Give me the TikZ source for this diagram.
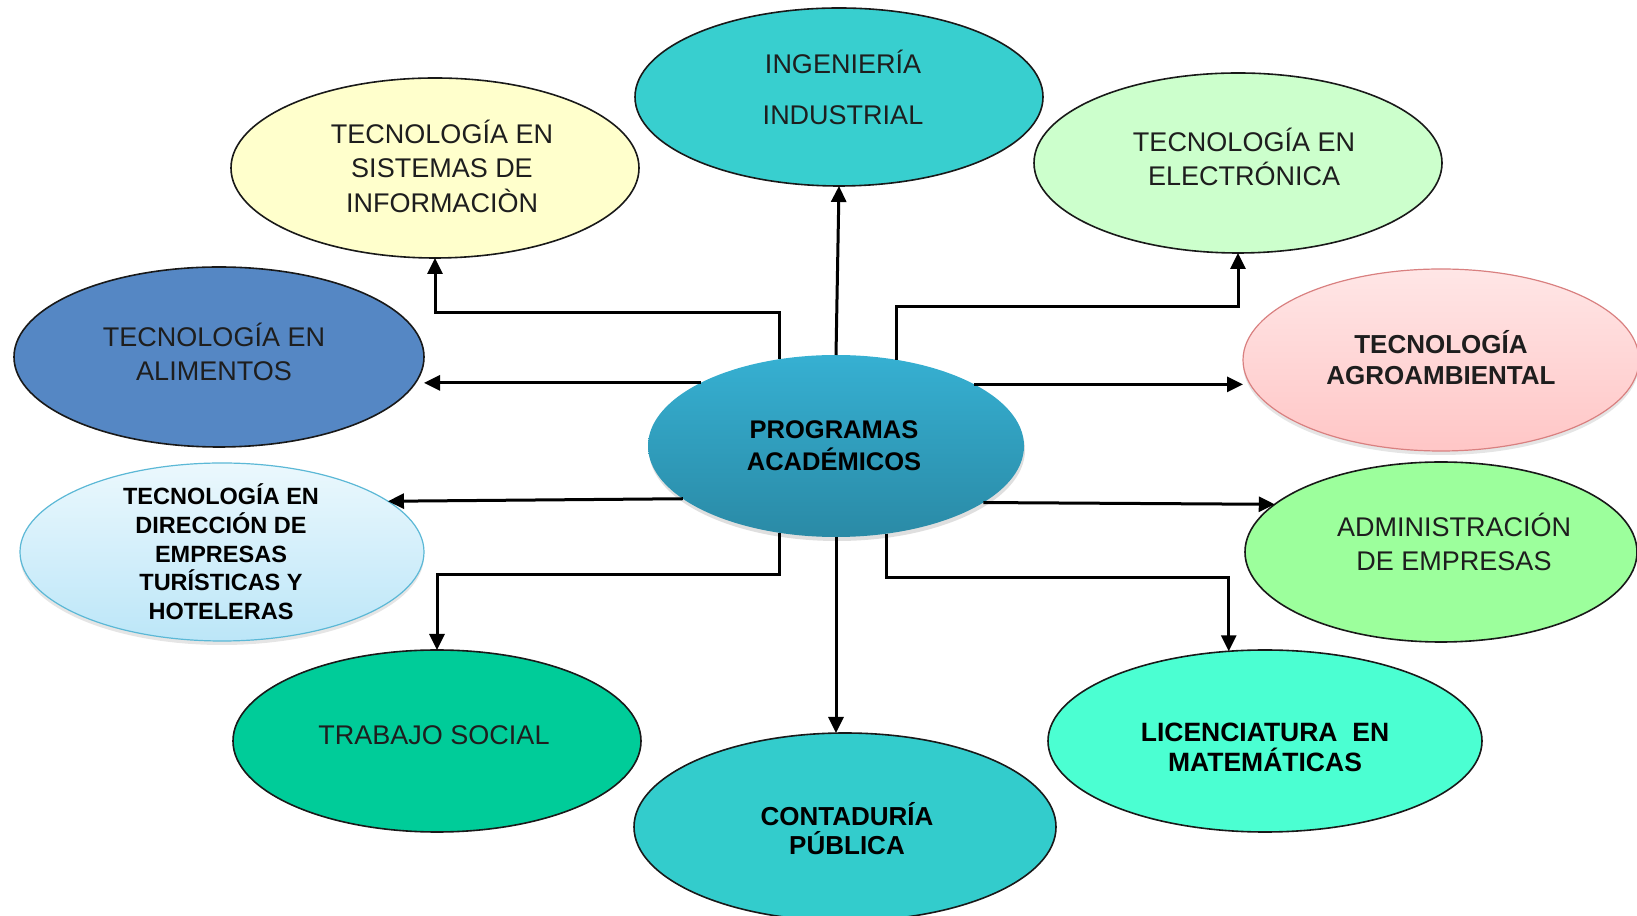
\documentclass[tikz,border=0pt]{standalone}
\usepackage{fontspec}
\setmainfont{Liberation Sans}
\usetikzlibrary{arrows.meta,shapes.geometric,shadows}
\definecolor{sisfill}{HTML}{FFFFCC}
\definecolor{indfill}{HTML}{38CFCF}
\definecolor{elefill}{HTML}{CCFFCC}
\definecolor{alifill}{HTML}{5587C4}
\definecolor{agrtop}{HTML}{FFE6E6}
\definecolor{agrbot}{HTML}{FFC6C6}
\definecolor{agrline}{HTML}{D98080}
\definecolor{progtop}{HTML}{36B0D2}
\definecolor{progbot}{HTML}{2A8AA6}
\definecolor{dirtop}{HTML}{EBF8FD}
\definecolor{dirbot}{HTML}{BCE6F8}
\definecolor{dirline}{HTML}{5BB8D6}
\definecolor{admfill}{HTML}{9CFF9C}
\definecolor{trafill}{HTML}{00CC99}
\definecolor{confill}{HTML}{33CCCC}
\definecolor{licfill}{HTML}{4BFFD2}
\definecolor{txt}{HTML}{1E1E1E}
\begin{document}
\begin{tikzpicture}[x=1pt,y=1pt,
  oval/.style={ellipse, draw=black!90, line width=1.6pt, inner sep=0pt, outer sep=0pt},
  lbl/.style={align=center, text=txt, inner sep=0pt},
  reg/.style={lbl, font=\fontsize{27}{34.5}\selectfont},
  arr/.style={line width=3pt, -{Triangle[length=16pt,width=15pt]}},
]
\useasboundingbox (0,0) rectangle (1637,915);
\fill[white] (0,0) rectangle (1637,915);

% ellipses
\node[oval, fill=sisfill, minimum width=408pt, minimum height=180pt] (sis) at (435,747) {};
\node[oval, fill=indfill, minimum width=408pt, minimum height=178pt] (ind) at (839,818) {};
\node[oval, fill=elefill, minimum width=408pt, minimum height=180pt] (ele) at (1238,752) {};
\node[oval, fill=alifill, minimum width=410pt, minimum height=180pt] (ali) at (219,558) {};
\node[oval, draw=agrline, line width=1.2pt, top color=agrtop, bottom color=agrbot,
      drop shadow={opacity=0.2, shadow xshift=0pt, shadow yshift=-4pt},
      minimum width=396pt, minimum height=182pt] (agr) at (1441,555) {};
\node[ellipse, inner sep=0pt, outer sep=0pt, top color=progtop, bottom color=progbot,
      drop shadow={opacity=0.25, shadow xshift=1pt, shadow yshift=-4pt},
      minimum width=376pt, minimum height=182pt] (prog) at (836,469) {};
\node[oval, draw=dirline, line width=1.2pt, top color=dirtop, bottom color=dirbot,
      drop shadow={opacity=0.2, shadow xshift=0pt, shadow yshift=-4pt},
      minimum width=404pt, minimum height=178pt] (dir) at (222,363) {};
\node[oval, fill=admfill, minimum width=392pt, minimum height=180pt] (adm) at (1441,363) {};
\node[oval, fill=trafill, minimum width=408pt, minimum height=182pt] (tra) at (437,174) {};
\node[oval, fill=confill, minimum width=422pt, minimum height=188pt] (con) at (845,88) {};
\node[oval, fill=licfill, minimum width=434pt, minimum height=182pt] (lic) at (1265,174) {};

% labels
\node[reg] (sis-t) at (442,749) {TECNOLOGÍA EN\\SISTEMAS DE\\INFORMACIÒN};
\node[lbl, font=\fontsize{27}{51}\selectfont] (ind-t) at (843,828) {INGENIERÍA\\INDUSTRIAL};
\node[reg] (ele-t) at (1244,758) {TECNOLOGÍA EN\\ELECTRÓNICA};
\node[reg] (ali-t) at (214,563) {TECNOLOGÍA EN\\ALIMENTOS};
\node[lbl, font=\bfseries\fontsize{26}{31}\selectfont] (agr-t) at (1441,557) {TECNOLOGÍA\\AGROAMBIENTAL};
\node[lbl, text=black, font=\bfseries\fontsize{25.5}{32}\selectfont] (prog-t) at (834,469) {PROGRAMAS\\ACADÉMICOS};
\node[lbl, text=black, font=\bfseries\fontsize{23.5}{28.7}\selectfont] (dir-t) at (221,363) {TECNOLOGÍA EN\\DIRECCIÓN DE\\EMPRESAS\\TURÍSTICAS Y\\HOTELERAS};
\node[reg] (adm-t) at (1454,373) {ADMINISTRACIÓN\\DE EMPRESAS};
\node[reg] (tra-t) at (434,180) {TRABAJO SOCIAL};
\node[lbl, text=black, font=\bfseries\fontsize{26}{29}\selectfont] (con-t) at (847,86) {CONTADURÍA\\PÚBLICA};
\node[lbl, text=black, font=\bfseries\fontsize{26.5}{30}\selectfont] (lic-t) at (1265,168) {LICENCIATURA\ \ EN\\MATEMÁTICAS};

% connectors
\draw[arr] (prog.123.8) -- ++(0,46.4) -| (sis.south);
\draw[arr] (prog.north) -- (ind.south);
\draw[arr] (prog.55.2) -- ++(0,53.8) -| (ele.south);
\draw[arr] (prog.155.1) -- (prog.155.1 -| ali.east);
\draw[arr] (prog.24.9) -- (prog.24.9 -| agr.west);
\draw[arr] (prog.199.6) -- (dir.17.6);
\draw[arr] (prog.-21.8) -- (adm.164.3);
\draw[arr] (prog.-123.8) -- ++(0,-41.4) -| (tra.north);
\draw[arr] (prog.south) -- (prog.south |- con.north);
\draw[arr] (prog.-60.9) -- ++(0,-44) -| (lic.112.4);
\end{tikzpicture}
\end{document}
